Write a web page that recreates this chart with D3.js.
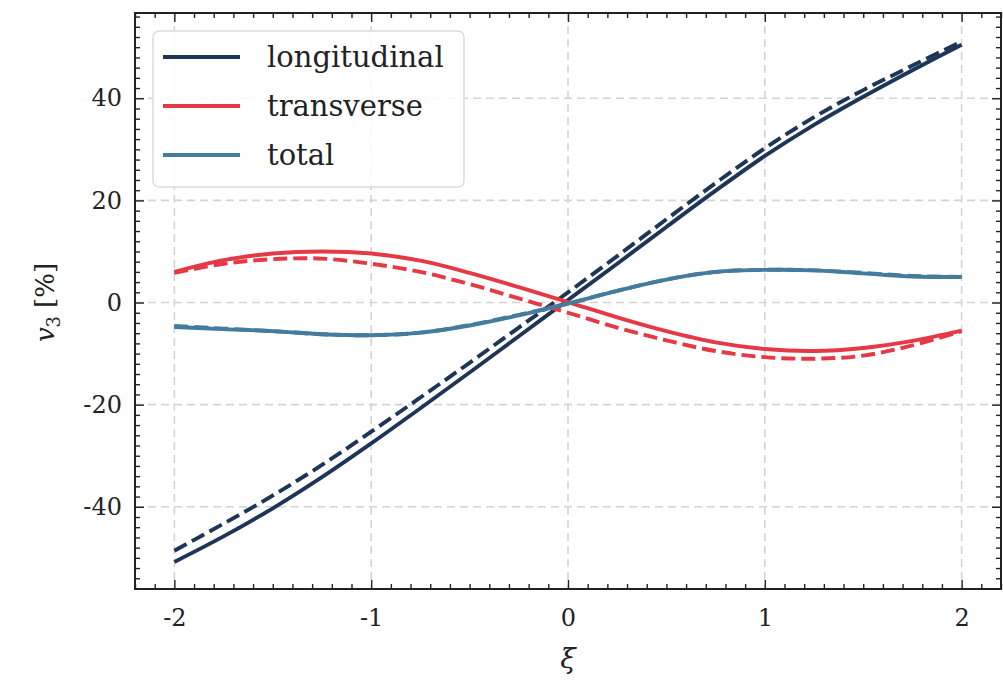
<!DOCTYPE html>
<html>
<head>
<meta charset="utf-8">
<script src="https://cdn.jsdelivr.net/npm/d3@7"></script>
<style>
  body { margin: 0; background: #fff; }
</style>
</head>
<body>
<div id="chart"></div>
<script>
const width = 1003,
    height = 681;

const margin = { top: 13, right: 2, bottom: 92, left: 135 };
const serif = "'DejaVu Serif', 'Liberation Serif', serif";

// data
const xi = [-2, -1.75, -1.5, -1.25, -1, -0.75, -0.5, -0.25, 0, 0.25, 0.5, 0.75, 1, 1.25, 1.5, 1.75, 2];

const longSolid = [-50.8, -45.8, -40.3, -34.2, -27.6, -20.7, -13.7, -6.6, 0.5, 7.6, 14.8, 21.9, 28.7, 34.8, 40.3, 45.5, 50.5];
const longDashed = [-48.6, -43.3, -37.8, -31.8, -25.3, -18.6, -11.8, -4.9, 2.0, 9.1, 16.3, 23.4, 30.2, 36.3, 41.6, 46.4, 51.1];

const transSolid = [6.0, 8.3, 9.6, 10.0, 9.6, 8.2, 5.8, 3.0, 0.1, -2.9, -5.6, -7.8, -9.1, -9.5, -8.9, -7.5, -5.5];
const transDashed = [5.8, 7.6, 8.5, 8.6, 7.6, 6.0, 3.6, 0.8, -2.0, -4.9, -7.4, -9.5, -10.7, -11.0, -10.4, -8.4, -5.6];

const totalSolid = [-4.8, -5.2, -5.6, -6.2, -6.4, -5.9, -4.5, -2.5, -0.2, 2.3, 4.5, 6.0, 6.4, 6.3, 5.7, 5.1, 5.0];
const totalDashed = [-4.6, -5.1, -5.6, -6.2, -6.4, -5.9, -4.4, -2.4, -0.2, 2.3, 4.5, 6.0, 6.4, 6.3, 5.8, 5.2, 5.0];

const seriesNames = ["longitudinal", "transverse", "total"];
const seriesColors = ["#1d3557", "#e63946", "#457b9d"];

const xTicks = [-2, -1, 0, 1, 2];
const yTicks = [-40, -20, 0, 20, 40];

const innerW = width - margin.left - margin.right,
    innerH = height - margin.top - margin.bottom;

const svg = d3.select("#chart")
    .append("svg")
    .attr("width", width)
    .attr("height", height)
    .style("font-family", serif);

const g = svg.append("g")
    .attr("transform", `translate(${margin.left},${margin.top})`);

const x = d3.scaleLinear()
    .domain([-2.2, 2.2])
    .range([0, innerW]);

const y = d3.scaleLinear()
    .domain([-56.1, 56.7])
    .range([innerH, 0]);

// grid
g.selectAll(null)
    .data(xTicks)
    .join("line")
    .attr("x1", function(d) { return x(d) })
    .attr("x2", function(d) { return x(d) })
    .attr("y1", 0)
    .attr("y2", innerH)
    .attr("stroke", "#d4d4d4")
    .attr("stroke-width", 1.6)
    .attr("stroke-dasharray", "8,5");

g.selectAll(null)
    .data(yTicks)
    .join("line")
    .attr("x1", 0)
    .attr("x2", innerW)
    .attr("y1", function(d) { return y(d) })
    .attr("y2", function(d) { return y(d) })
    .attr("stroke", "#d4d4d4")
    .attr("stroke-width", 1.6)
    .attr("stroke-dasharray", "8,5");

// curves
const lines = [
    { v: longDashed, c: 0, dash: "14,6" },
    { v: longSolid, c: 0, dash: null },
    { v: transDashed, c: 1, dash: "14,6" },
    { v: transSolid, c: 1, dash: null },
    { v: totalDashed, c: 2, dash: "14,6" },
    { v: totalSolid, c: 2, dash: null }
];

const line = d3.line()
    .x(function(d) { return x(d[0]) })
    .y(function(d) { return y(d[1]) })
    .curve(d3.curveCatmullRom.alpha(0.5));

g.selectAll(null)
    .data(lines)
    .join("path")
    .attr("d", function(d) { return line(d3.zip(xi, d.v)) })
    .attr("fill", "none")
    .attr("stroke", function(d) { return seriesColors[d.c] })
    .attr("stroke-width", 3.9)
    .attr("stroke-dasharray", function(d) { return d.dash })
    .attr("stroke-linecap", "butt");

// axes with inward ticks on every side
const fmt = function(d) { return String(d) };

function addAxis(axisFn, scale, ticks, size, tr, labels) {
    const a = g.append("g")
        .attr("transform", tr)
        .call(axisFn(scale).tickValues(ticks).tickSize(size).tickPadding(14).tickFormat(labels ? fmt : ""));
    a.attr("font-family", null);
    a.select(".domain").remove();
    a.selectAll("line").attr("stroke", "#222").attr("stroke-width", 1.4);
    a.selectAll("text")
        .style("font-family", serif)
        .style("font-size", "24px")
        .attr("fill", "#222");
    return a;
}

const xMinor = d3.range(-22, 23).map(function(i) { return i / 10 }).filter(function(d) { return Math.abs(d * 10 % 10) > 0.01 });
const yMinor = d3.range(-56, 57, 2).filter(function(d) { return d % 20 !== 0 });

// bottom
addAxis(d3.axisTop, x, xMinor, 5, `translate(0,${innerH})`, false);
const bx = addAxis(d3.axisTop, x, xTicks, 9, `translate(0,${innerH})`, true);
bx.selectAll("text").attr("y", 20).attr("dy", "0.71em");
// top
addAxis(d3.axisBottom, x, xMinor, 5, "translate(0,0)", false);
addAxis(d3.axisBottom, x, xTicks, 9, "translate(0,0)", false);
// left
addAxis(d3.axisRight, y, yMinor, 5, "translate(0,0)", false);
const ly = addAxis(d3.axisRight, y, yTicks, 9, "translate(0,0)", true);
ly.selectAll("text").attr("x", -13).attr("text-anchor", "end");
// right
addAxis(d3.axisLeft, y, yMinor, 5, `translate(${innerW},0)`, false);
addAxis(d3.axisLeft, y, yTicks, 9, `translate(${innerW},0)`, false);

// frame
g.append("rect")
    .attr("width", innerW)
    .attr("height", innerH)
    .attr("fill", "none")
    .attr("stroke", "#222")
    .attr("stroke-width", 2);

// axis labels
svg.append("text")
    .attr("x", margin.left + x(0))
    .attr("y", 668)
    .attr("text-anchor", "middle")
    .style("font-family", serif)
    .style("font-size", "28px")
    .style("font-style", "italic")
    .attr("fill", "#222")
    .text("ξ");

const yl = svg.append("text")
    .attr("transform", `translate(54,${margin.top + y(0)}) rotate(-90)`)
    .attr("text-anchor", "middle")
    .style("font-family", serif)
    .style("font-size", "26px")
    .attr("fill", "#222");
yl.append("tspan").style("font-style", "italic").text("v");
yl.append("tspan").attr("dy", 6).style("font-size", "18px").text("3");
yl.append("tspan").attr("dy", -6).attr("dx", 8).text("[%]");

// legend
const legend = svg.append("g")
    .attr("transform", "translate(153,31)");

legend.append("rect")
    .attr("width", 311)
    .attr("height", 156)
    .attr("rx", 6)
    .attr("fill", "#fff")
    .attr("fill-opacity", 0.85)
    .attr("stroke", "#dcdcdc")
    .attr("stroke-width", 1.5);

legend.selectAll(null)
    .data(seriesNames)
    .join("line")
    .attr("x1", 10)
    .attr("x2", 87)
    .attr("y1", function(d, i) { return 26 + i * 49 })
    .attr("y2", function(d, i) { return 26 + i * 49 })
    .attr("stroke", function(d, i) { return seriesColors[i] })
    .attr("stroke-width", 3.9);

legend.selectAll(null)
    .data(seriesNames)
    .join("text")
    .attr("x", 114)
    .attr("y", function(d, i) { return 26 + i * 49 })
    .attr("dy", "0.33em")
    .style("font-family", serif)
    .style("font-size", "29px")
    .attr("fill", "#222")
    .text(function(d) { return d });
</script>
</body>
</html>
